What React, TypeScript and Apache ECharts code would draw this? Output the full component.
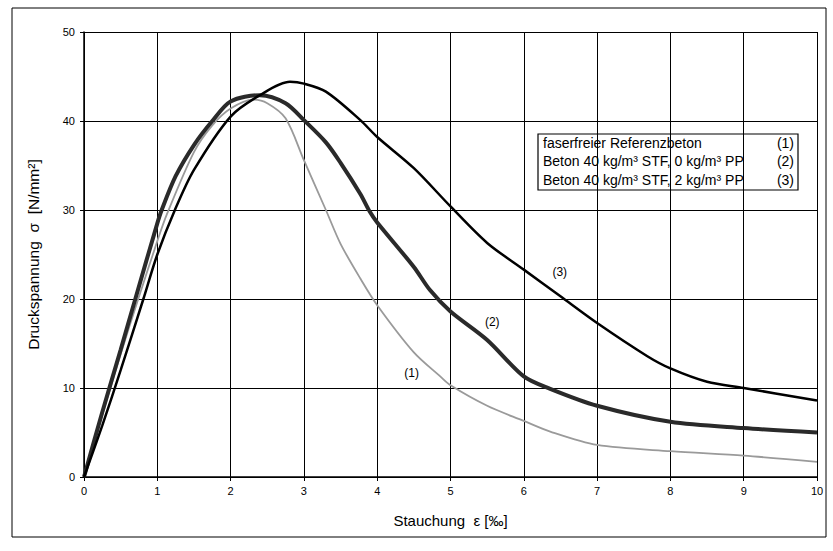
import React, { useEffect, useRef } from "react";
import * as echarts from "echarts";

// Stress-strain curves [strain ‰, stress N/mm²]
const curveRef: number[][] = [
  [0, 0], [0.25, 7], [0.5, 13.8], [0.74, 20], [1, 26.5], [1.13, 29.5], [1.5, 36.5], [1.75, 39.5],
  [2, 41.4], [2.31, 42.4], [2.5, 42], [2.75, 40.3], [3, 35.6], [3.3, 30], [3.5, 26.2], [3.77, 22.3],
  [4, 19.3], [4.5, 14], [4.86, 11.3], [5, 10.3], [5.5, 8], [6, 6.3], [6.36, 5.1], [7, 3.6],
  [8, 2.9], [9, 2.4], [10, 1.7],
];
const curveSTF: number[][] = [
  [0, 0], [0.25, 7.3], [0.5, 14.3], [0.7, 20], [1, 28.5], [1.06, 30], [1.25, 33.8], [1.5, 37.3],
  [1.75, 40], [2, 42.2], [2.4, 42.9], [2.75, 42], [3, 40.1], [3.3, 37.6], [3.5, 35.3], [3.77, 31.8],
  [3.9, 29.8], [4, 28.6], [4.5, 23.6], [4.72, 21.0], [5, 18.6], [5.5, 15.4], [6, 11.3], [6.36, 9.9],
  [7, 8.0], [8, 6.2], [9, 5.5], [10, 5.0],
];
const curveSTFPP: number[][] = [
  [0, 0], [0.25, 5.8], [0.5, 12], [0.81, 20], [1, 25], [1.24, 30], [1.5, 34.5], [2, 40.5],
  [2.4, 42.9], [2.81, 44.4], [3, 44.2], [3.3, 43.3], [3.77, 40.1], [4, 38.2], [4.5, 34.7],
  [5, 30.4], [5.5, 26.3], [6, 23.3], [6.5, 20.3], [7, 17.3], [7.68, 13.6], [8, 12.2],
  [8.5, 10.7], [9, 10.0], [10, 8.6],
];

const legendNames = [
  "faserfreier Referenzbeton",
  "Beton 40 kg/m³ STF, 0 kg/m³ PP",
  "Beton 40 kg/m³ STF, 2 kg/m³ PP",
];
const legendTags = ["(1)", "(2)", "(3)"];
// label positions for curve numbers [strain, stress]
const tagPositions: number[][] = [[4.47, 11.7], [5.57, 17.4], [6.49, 23.0]];

const FONT = "'Liberation Sans', Arial, sans-serif";

export default function App() {
  const ref = useRef<HTMLDivElement>(null);
  useEffect(() => {
    if (!ref.current) return;
    const chart = echarts.init(ref.current, null, { renderer: "svg" });
    const mk = (name: string, data: number[][], color: string, width: number, idx: number) => ({
      name,
      type: "line",
      data,
      showSymbol: false,
      smooth: 0.3,
      lineStyle: { color, width },
      z: 3 + idx,
      markPoint: {
        symbol: "circle",
        symbolSize: 0,
        data: [{ coord: tagPositions[idx], value: legendTags[idx] }],
        label: {
          show: true,
          position: "inside",
          formatter: legendTags[idx],
          color: "#000",
          fontFamily: FONT,
          fontSize: 12,
        },
      },
    });
    const legendChildren: any[] = [
      {
        type: "rect",
        shape: { x: 0, y: 0, width: 260, height: 56 },
        style: { fill: "#fff", stroke: "#000", lineWidth: 1.2 },
      },
    ];
    legendNames.forEach((n, i) => {
      legendChildren.push({
        type: "text",
        x: 5,
        y: 9 + i * 18.3,
        style: { text: n, fill: "#000", font: `14px ${FONT}`, textVerticalAlign: "middle" },
      });
      legendChildren.push({
        type: "text",
        x: 256,
        y: 9 + i * 18.3,
        style: { text: legendTags[i], fill: "#000", font: `14px ${FONT}`, textAlign: "right", textVerticalAlign: "middle" },
      });
    });
    chart.setOption({
      animation: false,
      backgroundColor: "#fff",
      grid: { left: 84, right: 16, top: 32, bottom: 74, containLabel: false },
      xAxis: {
        type: "value",
        min: 0,
        max: 10,
        interval: 1,
        name: "Stauchung  ε [‰]",
        nameLocation: "middle",
        nameGap: 36,
        nameTextStyle: { fontFamily: FONT, fontSize: 15, color: "#000" },
        axisLine: { show: true, onZero: false, lineStyle: { color: "#000", width: 1.5 } },
        axisTick: { show: true, length: 4, lineStyle: { color: "#000" } },
        axisLabel: { color: "#000", fontFamily: FONT, fontSize: 11, margin: 8 },
        splitLine: { show: true, lineStyle: { color: "#000", width: 1 } },
      },
      yAxis: {
        type: "value",
        min: 0,
        max: 50,
        interval: 10,
        name: "Druckspannung  σ  [N/mm²]",
        nameLocation: "middle",
        nameGap: 43,
        nameRotate: 90,
        nameTextStyle: { fontFamily: FONT, fontSize: 15.5, color: "#000" },
        axisLine: { show: true, lineStyle: { color: "#000", width: 1.5 } },
        axisTick: { show: true, length: 4, lineStyle: { color: "#000" } },
        axisLabel: { color: "#000", fontFamily: FONT, fontSize: 11, margin: 9 },
        splitLine: { show: true, lineStyle: { color: "#000", width: 1 } },
      },
      graphic: [
        {
          type: "rect",
          shape: { x: 12, y: 8, width: 814, height: 529 },
          style: { fill: "none", stroke: "#000", lineWidth: 1 },
          silent: true,
          z: -1,
        },
        {
          type: "group",
          x: 538,
          y: 134,
          z: 100,
          children: legendChildren,
        },
      ],
      series: [
        mk(legendNames[0], curveRef, "#9a9a9a", 1.8, 0),
        mk(legendNames[1], curveSTF, "#2a2a2a", 4, 1),
        mk(legendNames[2], curveSTFPP, "#000", 2.5, 2),
      ],
    });
    return () => chart.dispose();
  }, []);
  return (
    <div
      ref={ref}
      style={{ position: "fixed", left: 0, top: 0, width: 833, height: 551, background: "#fff" }}
    />
  );
}
